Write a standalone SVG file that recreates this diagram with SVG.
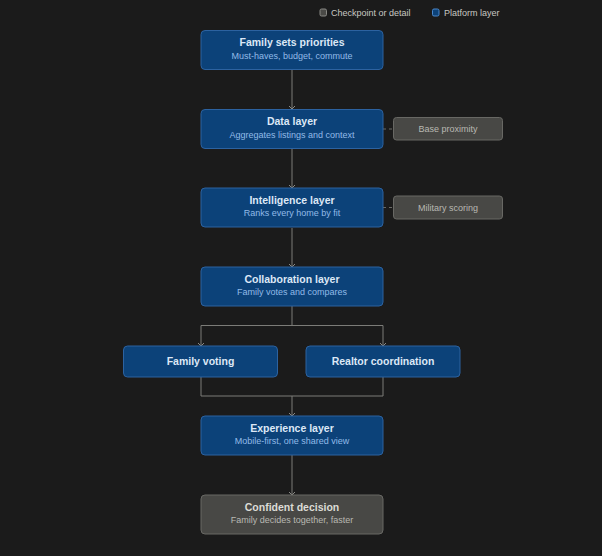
<svg xmlns="http://www.w3.org/2000/svg" width="602" height="556" viewBox="0 0 602 556">
<style>
.bg{fill:#1b1b1b}
.blue{fill:#0c4279;stroke:#2c62a0;stroke-width:1}
.gray{fill:#484845;stroke:#686864;stroke-width:1}
.t{font-family:"Liberation Sans",Arial,sans-serif;font-size:10.5px;font-weight:bold;text-anchor:middle;fill:#dde8f6}
.s{font-family:"Liberation Sans",Arial,sans-serif;font-size:9px;text-anchor:middle;fill:#92bbe8}
.gt{font-family:"Liberation Sans",Arial,sans-serif;font-size:10.5px;font-weight:bold;text-anchor:middle;fill:#dcdcd6}
.gs{font-family:"Liberation Sans",Arial,sans-serif;font-size:9px;text-anchor:middle;fill:#b8b8b2}
.lg{font-family:"Liberation Sans",Arial,sans-serif;font-size:9px;fill:#c8c8c2}
.ln{fill:none;stroke:#7c7c78;stroke-width:1}
.dash{fill:none;stroke:#6a6a66;stroke-width:1;stroke-dasharray:3 3}
</style>
<defs>
<marker id="ah" viewBox="0 0 8 8" refX="7" refY="4" markerWidth="8" markerHeight="8" markerUnits="userSpaceOnUse" orient="auto">
<path d="M4,1 L7,4 L4,7" fill="none" stroke="#8a8a86" stroke-width="1"/>
</marker>
</defs>
<rect class="bg" x="0" y="0" width="602" height="556"/>
<g id="legend">
<rect x="320" y="9" width="6.5" height="7" rx="1.5" fill="#4a4a47" stroke="#8a8a86" stroke-width="1"/>
<text class="lg" x="331" y="16">Checkpoint or detail</text>
<rect x="432.5" y="9" width="6.5" height="7" rx="1.5" fill="#0c4279" stroke="#4a88cc" stroke-width="1"/>
<text class="lg" x="444" y="16">Platform layer</text>
</g>
<g id="connectors">
<line class="ln" x1="292" y1="70" x2="292" y2="109" marker-end="url(#ah)"/>
<line class="ln" x1="292" y1="149" x2="292" y2="188" marker-end="url(#ah)"/>
<line class="ln" x1="292" y1="228" x2="292" y2="267" marker-end="url(#ah)"/>
<path class="ln" d="M292,306 V325.5 H201 V346" marker-end="url(#ah)"/>
<path class="ln" d="M292,325.5 H383 V346" marker-end="url(#ah)"/>
<path class="ln" d="M201,377 V396 H383 V377"/>
<line class="ln" x1="292" y1="396" x2="292" y2="416" marker-end="url(#ah)"/>
<line class="ln" x1="292" y1="455" x2="292" y2="495" marker-end="url(#ah)"/>
<line class="dash" x1="383" y1="129" x2="393" y2="129"/>
<line class="dash" x1="383" y1="207.5" x2="393" y2="207.5"/>
</g>
<g id="n1">
<rect class="blue" x="201" y="30.5" width="182" height="39" rx="4"/>
<text class="t" x="292" y="46">Family sets priorities</text>
<text class="s" x="292" y="58.5">Must-haves, budget, commute</text>
</g>
<g id="n2">
<rect class="blue" x="201" y="109.5" width="182" height="39" rx="4"/>
<text class="t" x="292" y="125">Data layer</text>
<text class="s" x="292" y="137.5">Aggregates listings and context</text>
</g>
<g id="n2d">
<rect class="gray" x="393.5" y="117.5" width="109" height="22.5" rx="3"/>
<text class="gs" x="448" y="132">Base proximity</text>
</g>
<g id="n3">
<rect class="blue" x="201" y="188" width="182" height="39" rx="4"/>
<text class="t" x="292" y="203.5">Intelligence layer</text>
<text class="s" x="292" y="216">Ranks every home by fit</text>
</g>
<g id="n3d">
<rect class="gray" x="393.5" y="196" width="109" height="23" rx="3"/>
<text class="gs" x="448" y="210.5">Military scoring</text>
</g>
<g id="n4">
<rect class="blue" x="201" y="267" width="182" height="39" rx="4"/>
<text class="t" x="292" y="282.5">Collaboration layer</text>
<text class="s" x="292" y="295">Family votes and compares</text>
</g>
<g id="n5">
<rect class="blue" x="123.5" y="346" width="154" height="31" rx="4"/>
<text class="t" x="200.5" y="364.5">Family voting</text>
</g>
<g id="n6">
<rect class="blue" x="306" y="346" width="154" height="31" rx="4"/>
<text class="t" x="383" y="364.5">Realtor coordination</text>
</g>
<g id="n7">
<rect class="blue" x="201" y="416" width="182" height="39" rx="4"/>
<text class="t" x="292" y="431.5">Experience layer</text>
<text class="s" x="292" y="444">Mobile-first, one shared view</text>
</g>
<g id="n8">
<rect class="gray" x="201" y="495" width="182" height="39" rx="4"/>
<text class="gt" x="292" y="510.5">Confident decision</text>
<text class="gs" x="292" y="523">Family decides together, faster</text>
</g>
</svg>
